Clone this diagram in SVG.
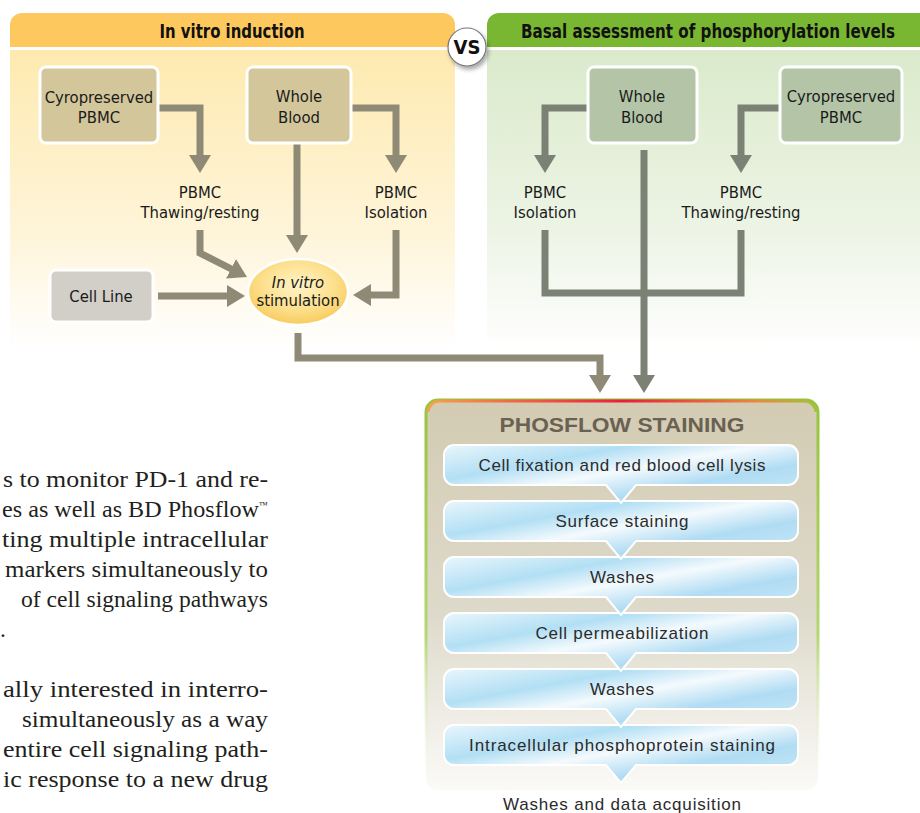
<svg xmlns="http://www.w3.org/2000/svg" xmlns:xlink="http://www.w3.org/1999/xlink" width="920" height="813" viewBox="0 0 920 813">
<style>
.hdr{font-family:"Liberation Sans Narrow","DejaVu Sans Condensed","Liberation Sans",sans-serif;font-weight:bold;font-size:19px;fill:#111;text-anchor:middle}
.nd{font-family:"Liberation Sans Narrow","DejaVu Sans Condensed","Liberation Sans",sans-serif;font-size:16.5px;fill:#1a1a1a;text-anchor:middle}
.body{font-family:"Liberation Serif","Times New Roman",serif;font-size:23.5px;fill:#231f20}
.step{font-family:"Liberation Sans","Arial",sans-serif;font-size:17px;fill:#2b2b2b;text-anchor:middle}
.la{fill:none;stroke:#8F8A76;stroke-width:7;marker-end:url(#ahL)}
.ra{fill:none;stroke:#7B8275;stroke-width:7;marker-end:url(#ahR)}
.boxL{fill:#D3C69A;stroke:#fff;stroke-width:3}
.boxR{fill:#B4C5A7;stroke:#fff;stroke-width:3}
</style>
<defs>
<marker id="ahL" viewBox="0 0 18 22" refX="6" refY="11" markerWidth="18" markerHeight="22" markerUnits="userSpaceOnUse" orient="auto"><path d="M0,0 L18,11 L0,22 Z" fill="#8F8A76"/></marker>
<marker id="ahR" viewBox="0 0 18 22" refX="6" refY="11" markerWidth="18" markerHeight="22" markerUnits="userSpaceOnUse" orient="auto"><path d="M0,0 L18,11 L0,22 Z" fill="#7B8275"/></marker>
<linearGradient id="bodyL" x1="0" y1="0" x2="0" y2="1"><stop offset="0" stop-color="#FEEAB0"/><stop offset="0.6" stop-color="#FEF4D8"/><stop offset="1" stop-color="#FFFFFF"/></linearGradient>
<linearGradient id="bodyR" x1="0" y1="0" x2="0" y2="1"><stop offset="0" stop-color="#DAEACB"/><stop offset="0.6" stop-color="#EDF4E5"/><stop offset="1" stop-color="#FFFFFF"/></linearGradient>
<radialGradient id="ell" cx="0.5" cy="0.4" r="0.6"><stop offset="0" stop-color="#FFF4C8"/><stop offset="0.6" stop-color="#FCE08E"/><stop offset="1" stop-color="#F8CB5C"/></radialGradient>
<linearGradient id="pfFill" x1="0" y1="0" x2="0" y2="1"><stop offset="0" stop-color="#D3CBB2"/><stop offset="0.55" stop-color="#DEDACB"/><stop offset="1" stop-color="#FBFAF7"/></linearGradient>
<linearGradient id="pfSide" x1="0" y1="0" x2="0" y2="1"><stop offset="0" stop-color="#95C43C"/><stop offset="0.6" stop-color="#B5D672"/><stop offset="1" stop-color="#FFFFFF" stop-opacity="0"/></linearGradient>
<linearGradient id="pfTop" x1="0" y1="0" x2="1" y2="0"><stop offset="0" stop-color="#F4A34A"/><stop offset="0.5" stop-color="#EE1C3C"/><stop offset="0.85" stop-color="#E88A3A"/><stop offset="1" stop-color="#9CC43C"/></linearGradient>
<linearGradient id="stepG" x1="0" y1="0" x2="1" y2="0.9"><stop offset="0" stop-color="#E9F6FC"/><stop offset="0.3" stop-color="#B2DFF4"/><stop offset="0.5" stop-color="#F4FAFD"/><stop offset="0.72" stop-color="#B0DCF3"/><stop offset="1" stop-color="#C9E8F7"/></linearGradient>
<path id="stepShape" d="M10,0 H344 A10,10 0 0 1 354,10 V30 A10,10 0 0 1 344,40 H192 L177,58 L162,40 H10 A10,10 0 0 1 0,30 V10 A10,10 0 0 1 10,0 Z"/>
<filter id="sh" x="-30%" y="-30%" width="170%" height="170%"><feDropShadow dx="2" dy="3" stdDeviation="2" flood-color="#000" flood-opacity="0.35"/></filter>
</defs>

<g id="panel-left">
<path d="M10,25 A12,12 0 0 1 22,13 H443 A12,12 0 0 1 455,25 V47 H10 Z" fill="#FDC95F"/>
<rect x="10" y="50" width="445" height="300" fill="url(#bodyL)"/>
<text class="hdr" x="232" y="38" textLength="145" lengthAdjust="spacingAndGlyphs">In vitro induction</text>
</g>
<g id="panel-right">
<path d="M487,25 A12,12 0 0 1 499,13 H920 V47 H487 Z" fill="#79B733"/>
<rect x="487" y="50" width="433" height="300" fill="url(#bodyR)"/>
<text class="hdr" x="708" y="38" font-size="18" textLength="374" lengthAdjust="spacingAndGlyphs">Basal assessment of phosphorylation levels</text>
</g>
<g id="vs">
<circle cx="467" cy="47" r="19" fill="#fff" stroke="#777" stroke-width="1.2" filter="url(#sh)"/>
<text x="467" y="54" font-family="Liberation Sans Narrow,DejaVu Sans Condensed,Liberation Sans,sans-serif" font-weight="bold" font-size="20" text-anchor="middle" fill="#111">VS</text>
</g>

<g id="connectors">
<path class="la" d="M158,108 H200 V161"/>
<path class="la" d="M351,108 H396 V161"/>
<path class="la" d="M297,143 V241"/>
<path class="la" d="M200,230 V253 L236.3,271.5"/>
<path class="la" d="M158,296 H233"/>
<path class="la" d="M396,230 V295 H365"/>
<path class="la" d="M298,333 V358 H600 V381"/>
<path class="ra" d="M588,108 H545 V161"/>
<path class="ra" d="M780,108 H741 V161"/>
<path fill="none" stroke="#7B8275" stroke-width="7" d="M545,230 V293 H741 V230"/>
<path class="ra" d="M644,150 V381"/>
</g>

<g id="n-cryo-left"><rect class="boxL" x="40" y="67" width="118" height="76" rx="6"/><text class="nd" x="99" y="103">Cyropreserved</text><text class="nd" x="99" y="123">PBMC</text></g>
<g id="n-wb-left"><rect class="boxL" x="247" y="67" width="104" height="76" rx="6"/><text class="nd" x="299" y="102">Whole</text><text class="nd" x="299" y="123">Blood</text></g>
<g id="n-thaw-left"><text class="nd" x="200" y="198">PBMC</text><text class="nd" x="200" y="218">Thawing/resting</text></g>
<g id="n-iso-left"><text class="nd" x="396" y="198">PBMC</text><text class="nd" x="396" y="218">Isolation</text></g>
<g id="n-cellline"><rect x="50" y="270" width="103" height="52" rx="6" fill="#D1CFC7" stroke="#fff" stroke-width="3"/><text class="nd" x="101" y="302">Cell Line</text></g>
<g id="n-stim"><ellipse cx="298" cy="292" rx="50" ry="33" fill="url(#ell)" stroke="#fff" stroke-width="2.5"/><text class="nd" x="298" y="288" font-size="16" font-style="italic">In vitro</text><text class="nd" x="298" y="306" font-size="16">stimulation</text></g>

<g id="n-wb-right"><rect class="boxR" x="588" y="67" width="109" height="76" rx="6"/><text class="nd" x="642" y="102">Whole</text><text class="nd" x="642" y="123">Blood</text></g>
<g id="n-cryo-right"><rect class="boxR" x="780" y="67" width="122" height="76" rx="6"/><text class="nd" x="841" y="102">Cyropreserved</text><text class="nd" x="841" y="123">PBMC</text></g>
<g id="n-iso-right"><text class="nd" x="545" y="198">PBMC</text><text class="nd" x="545" y="218">Isolation</text></g>
<g id="n-thaw-right"><text class="nd" x="741" y="198">PBMC</text><text class="nd" x="741" y="218">Thawing/resting</text></g>

<g id="phosflow">
<rect x="426" y="400" width="392" height="390" rx="12" fill="url(#pfFill)" stroke="url(#pfSide)" stroke-width="3"/>
<path d="M428,412 A12,12 0 0 1 438,401 H806 A12,12 0 0 1 816,412" fill="none" stroke="url(#pfTop)" stroke-width="3"/>
<text x="622" y="432" font-family="Liberation Sans,Arial,sans-serif" font-weight="bold" font-size="21" text-anchor="middle" fill="#6A6152" textLength="245" lengthAdjust="spacingAndGlyphs">PHOSFLOW STAINING</text>
</g>
<g id="s6"><use xlink:href="#stepShape" x="444" y="725" fill="url(#stepG)" stroke="#fff" stroke-width="2"/><text class="step" x="622" y="751" textLength="306">Intracellular phosphoprotein staining</text></g>
<g id="s5"><use xlink:href="#stepShape" x="444" y="669" fill="url(#stepG)" stroke="#fff" stroke-width="2"/><text class="step" x="622" y="695" textLength="64">Washes</text></g>
<g id="s4"><use xlink:href="#stepShape" x="444" y="613" fill="url(#stepG)" stroke="#fff" stroke-width="2"/><text class="step" x="622" y="639" textLength="173">Cell permeabilization</text></g>
<g id="s3"><use xlink:href="#stepShape" x="444" y="557" fill="url(#stepG)" stroke="#fff" stroke-width="2"/><text class="step" x="622" y="583" textLength="64">Washes</text></g>
<g id="s2"><use xlink:href="#stepShape" x="444" y="501" fill="url(#stepG)" stroke="#fff" stroke-width="2"/><text class="step" x="622" y="527" textLength="133">Surface staining</text></g>
<g id="s1"><use xlink:href="#stepShape" x="444" y="445" fill="url(#stepG)" stroke="#fff" stroke-width="2"/><text class="step" x="622" y="471" textLength="287">Cell fixation and red blood cell lysis</text></g>
<g id="final"><text class="step" x="622" y="810" textLength="238">Washes and data acquisition</text></g>

<g id="bodytext">
<text class="body" x="3" y="487" textLength="265" lengthAdjust="spacingAndGlyphs">s to monitor PD-1 and re-</text>
<text class="body" x="2" y="517" textLength="266" lengthAdjust="spacingAndGlyphs">es as well as BD Phosflow<tspan font-size="9" dy="-9">™</tspan></text>
<text class="body" x="2" y="547" textLength="266" lengthAdjust="spacingAndGlyphs">ting multiple intracellular</text>
<text class="body" x="5" y="577" textLength="263" lengthAdjust="spacingAndGlyphs">markers simultaneously to</text>
<text class="body" x="21" y="607" textLength="247" lengthAdjust="spacingAndGlyphs">of cell signaling pathways</text>
<text class="body" x="0" y="637">.</text>
<text class="body" x="3" y="697" textLength="265" lengthAdjust="spacingAndGlyphs">ally interested in interro-</text>
<text class="body" x="22" y="727" textLength="246" lengthAdjust="spacingAndGlyphs">simultaneously as a way</text>
<text class="body" x="3" y="757" textLength="265" lengthAdjust="spacingAndGlyphs">entire cell signaling path-</text>
<text class="body" x="3" y="787" textLength="265" lengthAdjust="spacingAndGlyphs">ic response to a new drug</text>
</g>
</svg>
